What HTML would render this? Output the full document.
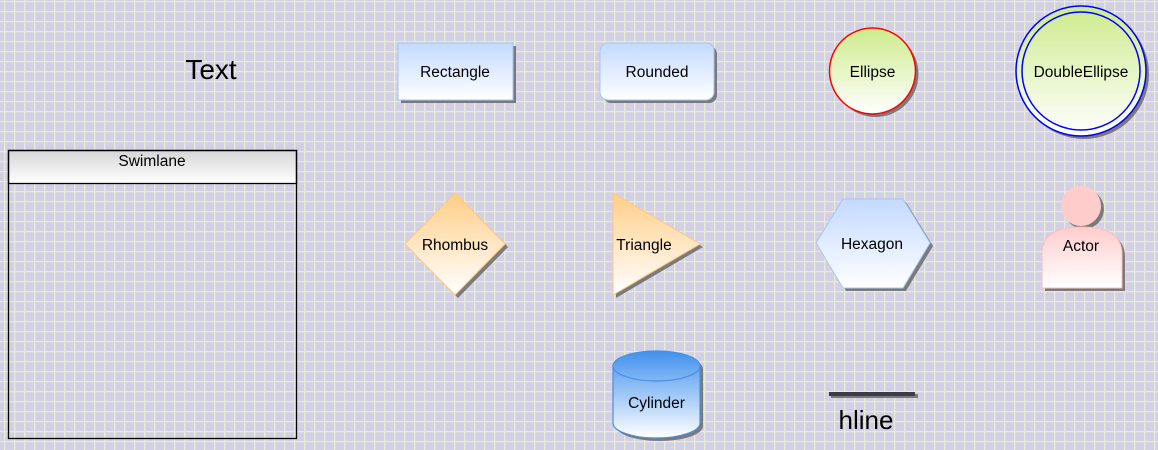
<!DOCTYPE html>
<html><head><meta charset="utf-8"><style>
html,body{margin:0;padding:0;width:1158px;height:450px;overflow:hidden}
svg{display:block}
text{font-family:"Liberation Sans",sans-serif;fill:#000}
</style></head><body>
<svg width="1158" height="450" viewBox="0 0 1158 450">
<defs>
<pattern id="grid" x="4" y="1" width="10" height="10" patternUnits="userSpaceOnUse">
<rect width="10" height="10" fill="#d3d0e6"/>
<rect x="0" y="0" width="1.3" height="10" fill="#e6ecd6"/>
<rect x="0" y="0" width="10" height="1.3" fill="#e6ecd6"/>
</pattern>
<linearGradient id="gBlue" x1="0" y1="0" x2="0" y2="1"><stop offset="0" stop-color="#c3d9ff"/><stop offset="1" stop-color="#ffffff"/></linearGradient>
<linearGradient id="gGreen" x1="0" y1="0" x2="0" y2="1"><stop offset="0" stop-color="#cdeb8b"/><stop offset="1" stop-color="#ffffff"/></linearGradient>
<linearGradient id="gOrange" x1="0" y1="0" x2="0" y2="1"><stop offset="0" stop-color="#ffcd86"/><stop offset="1" stop-color="#ffffff"/></linearGradient>
<linearGradient id="gPink" x1="0" y1="0" x2="0" y2="1"><stop offset="0" stop-color="#ffcccc"/><stop offset="1" stop-color="#ffffff"/></linearGradient>
<linearGradient id="gCyl" x1="0" y1="0" x2="0" y2="1"><stop offset="0" stop-color="#4191ee"/><stop offset="1" stop-color="#ffffff"/></linearGradient>
<linearGradient id="gGray" x1="0" y1="0" x2="0" y2="1"><stop offset="0" stop-color="#d6d6d6"/><stop offset="1" stop-color="#ffffff"/></linearGradient>
</defs>
<rect width="1158" height="450" fill="url(#grid)"/>

<text x="211" y="79" font-size="28" text-anchor="middle">Text</text>

<g>
<rect x="401" y="46" width="115" height="57" fill="#7a7a7a"/>
<rect x="398" y="43" width="115" height="57" fill="url(#gBlue)" stroke="#a9c4f0" stroke-width="1"/>
<text x="455" y="77" font-size="15.5" text-anchor="middle">Rectangle</text>
</g>
<g>
<rect x="603" y="46" width="114" height="57" rx="8" fill="#7a7a7a"/>
<rect x="600" y="43" width="114" height="57" rx="8" fill="url(#gBlue)" stroke="#a9c4f0"/>
<text x="657" y="77" font-size="15.5" text-anchor="middle">Rounded</text>
</g>
<g>
<circle cx="875.5" cy="74" r="43" fill="#7a7a7a"/>
<circle cx="872.5" cy="71" r="43" fill="url(#gGreen)" stroke="#ff0000" stroke-width="1.5"/>
<text x="872.5" y="77" font-size="15.5" text-anchor="middle">Ellipse</text>
</g>
<g>
<circle cx="1084" cy="74" r="65" fill="#7a7a7a"/>
<circle cx="1081" cy="71" r="65" fill="url(#gGreen)" stroke="#0000ff" stroke-width="1.5"/>
<circle cx="1081" cy="71" r="59" fill="none" stroke="#0000ff" stroke-width="1.5"/>
<text x="1081" y="77" font-size="15.5" text-anchor="middle">DoubleEllipse</text>
</g>

<g>
<rect x="8.5" y="150.5" width="288" height="33" fill="url(#gGray)" stroke="#000" stroke-width="1.3"/>
<rect x="8.5" y="150.5" width="288" height="288" fill="none" stroke="#000" stroke-width="1.3"/>
<text x="152" y="166" font-size="15.5" text-anchor="middle">Swimlane</text>
</g>

<g>
<polygon points="458,196 508,247 458,298 408,247" fill="#7a7a7a"/>
<polygon points="455,193 505,244 455,295 405,244" fill="url(#gOrange)" stroke="#ffc67f"/>
<text x="455" y="250" font-size="15.5" text-anchor="middle">Rhombus</text>
</g>
<g>
<polygon points="616,196 703,247 616,298" fill="#7a7a7a"/>
<polygon points="613,193 700,244 613,295" fill="url(#gOrange)" stroke="#ffc67f"/>
<text x="644" y="250" font-size="15.5" text-anchor="middle">Triangle</text>
</g>
<g>
<polygon points="846,202 906,202 933,246 906,291 846,291 819,246" fill="#7a7a7a"/>
<polygon points="843,199 903,199 930,243 903,288 843,288 816,243" fill="url(#gBlue)" stroke="#a9c4f0"/>
<text x="872" y="249" font-size="15.5" text-anchor="middle">Hexagon</text>
</g>
<g>
<circle cx="1084" cy="209" r="20" fill="#7a7a7a"/>
<path d="M1045,291 L1045,257 Q1045,230 1084,230 Q1125,230 1125,257 L1125,291 Z" fill="#7a7a7a"/>
<circle cx="1081" cy="206" r="20" fill="#ffcccc"/>
<path d="M1042,288 L1042,254 Q1042,227 1081,227 Q1122,227 1122,254 L1122,288 Z" fill="url(#gPink)" stroke="#ffbcbc"/>
<text x="1081" y="251" font-size="15.5" text-anchor="middle">Actor</text>
</g>
<g>
<path d="M616,369 A43.5,15 0 0 1 703,369 L703,426 A43.5,15 0 0 1 616,426 Z" fill="#7a7a7a"/>
<path d="M613,366 A43.5,15 0 0 1 700,366 L700,423 A43.5,15 0 0 1 613,423 Z" fill="url(#gCyl)" stroke="#4a8fe0" stroke-width="1.2"/>
<path d="M613,366 A43.5,15 0 0 0 700,366" fill="none" stroke="#4a8fe0" stroke-width="1.2"/>
<text x="656.5" y="408" font-size="15.5" text-anchor="middle">Cylinder</text>
</g>
<g>
<rect x="831" y="394" width="87" height="4" fill="#7a7a7a"/>
<rect x="829" y="392" width="86" height="4" fill="#3c3c46"/>
<text x="866" y="429" font-size="26" text-anchor="middle">hline</text>
</g>
</svg>
</body></html>
